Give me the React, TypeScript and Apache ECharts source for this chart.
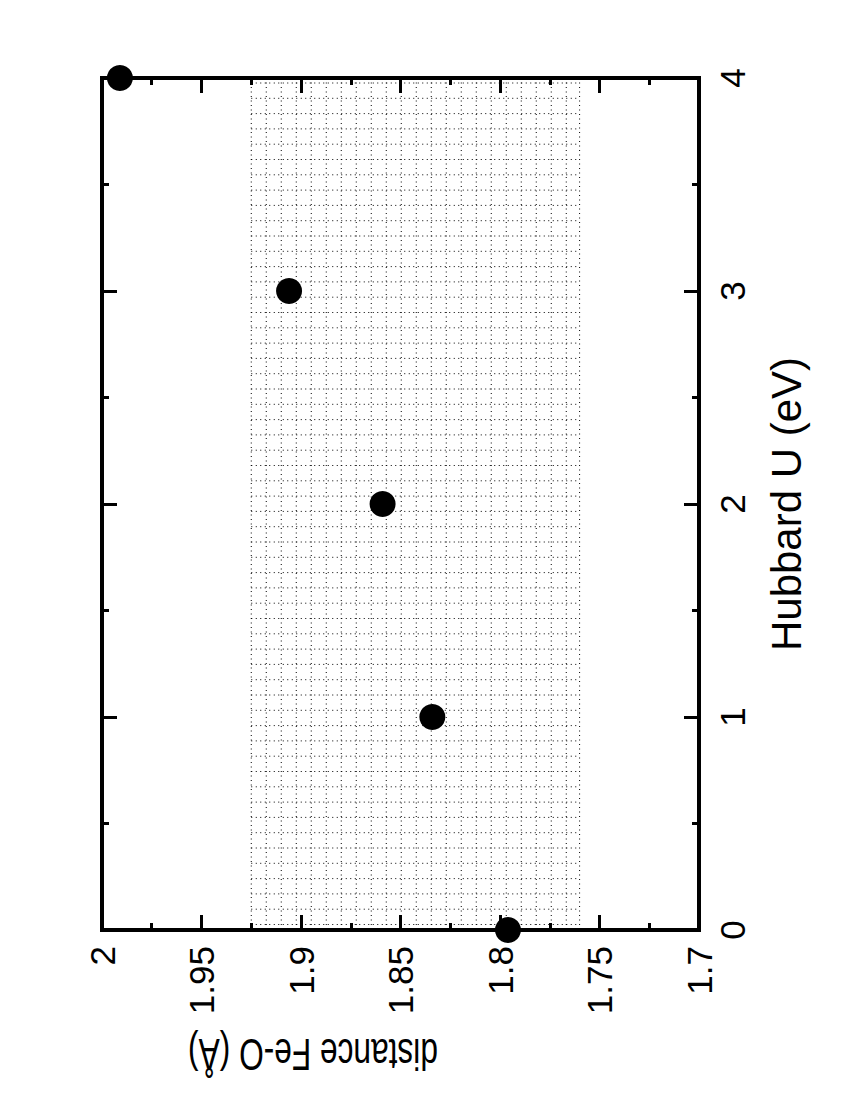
import React, { useEffect, useRef } from "react";
import * as echarts from "echarts";

// Data
const hubbardU = [0, 1, 2, 3, 4];
const distanceFeO = [1.796, 1.834, 1.859, 1.906, 1.991];
// shaded (experimental) band of Fe-O distance, spanning whole U range
const bandDistance = [1.76, 1.925];
const bandU = [0, 4];

const distanceMin = 1.7;
const distanceMax = 2.0;
const distanceStep = 0.05;
const uMin = 0;
const uMax = 4;
const uStep = 1;

const FONT = "'Liberation Sans Narrow', 'Arial Narrow', 'Liberation Sans', Arial, sans-serif";

const fmt = (v: number) => String(parseFloat(Number(v).toFixed(2)));

const mkLine = () => ({ show: true, onZero: false, lineStyle: { color: "#000", width: 4, cap: "square" } });
const mkTick = () => ({ show: true, inside: true, length: 15, lineStyle: { color: "#000", width: 3 } });
const mkMinor = () => ({ show: true, splitNumber: 2, length: 7, lineStyle: { color: "#000", width: 3 } });

export default function App() {
  const ref = useRef<HTMLDivElement>(null);

  useEffect(() => {
    if (!ref.current) return;
    const chart = echarts.init(ref.current, null, { renderer: "svg" });

    const xBase = () => ({
      type: "value",
      min: distanceMin,
      max: distanceMax,
      interval: distanceStep,
      inverse: true,
      axisLine: mkLine(),
      axisTick: mkTick(),
      minorTick: mkMinor(),
      splitLine: { show: false },
    });
    const yBase = () => ({
      type: "value",
      min: uMin,
      max: uMax,
      interval: uStep,
      axisLine: mkLine(),
      axisTick: mkTick(),
      minorTick: mkMinor(),
      splitLine: { show: false },
    });

    const option: any = {
      animation: false,
      backgroundColor: "#fff",
      grid: { left: 102, right: 153, top: 78, bottom: 170, containLabel: false },
      xAxis: [
        {
          ...xBase(),
          position: "bottom",
          axisLabel: {
            rotate: 90,
            margin: 16,
            fontSize: 35,
            fontFamily: FONT,
            color: "#000",
            formatter: fmt,
          },
        },
        { ...xBase(), position: "top", axisLabel: { show: false } },
      ],
      yAxis: [
        {
          ...yBase(),
          position: "right",
          axisLabel: {
            rotate: 90,
            margin: 16,
            fontSize: 35,
            fontFamily: FONT,
            color: "#000",
            formatter: fmt,
          },
          name: "Hubbard U (eV)",
          nameLocation: "middle",
          nameRotate: 90,
          nameGap: 66,
          nameTextStyle: { fontSize: 42, fontFamily: "'Liberation Sans', Arial, sans-serif", color: "#000" },
        },
        { ...yBase(), position: "left", axisLabel: { show: false } },
      ],
      graphic: [
        {
          type: "text",
          x: 313,
          y: 1054,
          rotation: Math.PI,
          scaleX: 0.72,
          style: {
            text: "distance Fe-O (Å)",
            fontSize: 44,
            fontFamily: "'Liberation Sans', Arial, sans-serif",
            fill: "#000",
            align: "center",
            verticalAlign: "middle",
          },
        },
      ],
      series: [
        {
          type: "custom",
          xAxisIndex: 0,
          yAxisIndex: 0,
          z: 1,
          clip: true,
          data: [[bandDistance[1], bandDistance[0], bandU[0], bandU[1]]],
          renderItem: (params: any, api: any) => {
            const p1 = api.coord([api.value(0), api.value(3)]);
            const p2 = api.coord([api.value(1), api.value(2)]);
            const x1 = Math.min(p1[0], p2[0]);
            const x2 = Math.max(p1[0], p2[0]);
            const y1 = Math.min(p1[1], p2[1]);
            const y2 = Math.max(p1[1], p2[1]);
            const style = { stroke: "#000", lineWidth: 1, lineDash: [1, 3.5] };
            const children: any[] = [];
            const step = 15;
            for (let x = x1; x <= x2 + 0.5; x += step) {
              children.push({ type: "line", shape: { x1: x, y1, x2: x, y2 }, style });
            }
            if ((x2 - x1) % step > 2) {
              children.push({ type: "line", shape: { x1: x2, y1, x2, y2 }, style });
            }
            for (let y = y1 + 5; y <= y2; y += 15.3) {
              children.push({ type: "line", shape: { x1, y1: y, x2, y2: y }, style });
            }
            return { type: "group", children };
          },
        },
        {
          type: "scatter",
          xAxisIndex: 0,
          yAxisIndex: 0,
          z: 5,
          clip: false,
          symbol: "circle",
          symbolSize: 26,
          itemStyle: { color: "#000", opacity: 1 },
          data: hubbardU.map((u, i) => [distanceFeO[i], u]),
        },
      ],
    };

    chart.setOption(option);
    return () => chart.dispose();
  }, []);

  return (
    <div
      ref={ref}
      style={{ position: "fixed", left: 0, top: 0, width: 852, height: 1100, background: "#fff" }}
    />
  );
}
